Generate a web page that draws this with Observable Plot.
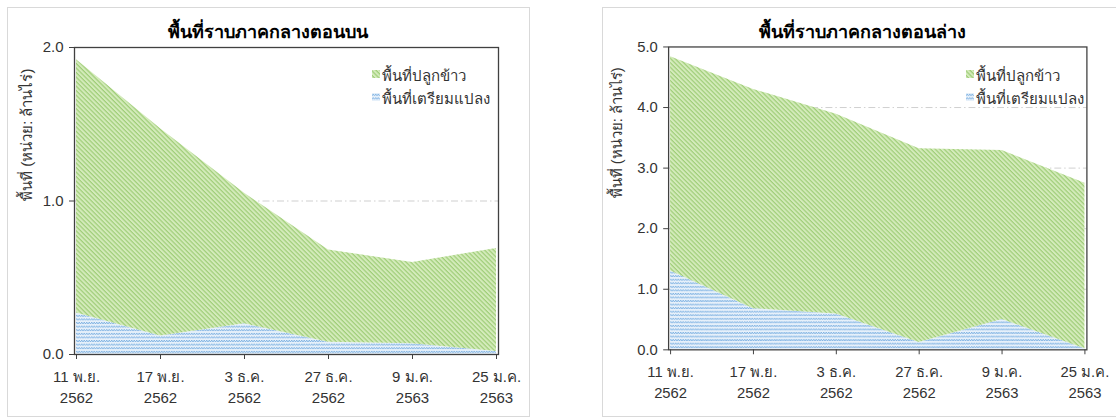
<!DOCTYPE html>
<html><head><meta charset="utf-8">
<script src="https://cdn.jsdelivr.net/npm/d3@7"></script>
<script src="https://cdn.jsdelivr.net/npm/@observablehq/plot@0.6"></script>
<style>
body{margin:0;width:1116px;height:417px;overflow:hidden;background:#fff;font-family:"Liberation Sans",Arial,sans-serif;position:relative}
.panel{position:absolute;top:7px;height:410px;border:1px solid #d9d9d9;box-sizing:border-box}
.chart{position:absolute;top:8px}
.title{position:absolute;top:21px;font-weight:bold;font-size:18px;line-height:22px;color:#000;transform:translateX(-50%);white-space:nowrap}
.legend{position:absolute;font-size:15px;line-height:23px;color:#333;white-space:nowrap}
.legend svg{vertical-align:middle;margin-right:2px;position:relative;top:-3px}
</style>
</head><body>
<svg width="0" height="0" style="position:absolute">
<defs>
<pattern id="pGreen" patternUnits="userSpaceOnUse" width="3.2" height="3.2" patternTransform="rotate(45)">
<rect width="3.2" height="3.2" fill="#d4ebbb"/>
<rect y="0" width="3.2" height="1.2" fill="#9fcd78"/>
</pattern>
<pattern id="pBlue" patternUnits="userSpaceOnUse" width="5" height="3.6">
<rect width="5" height="3.6" fill="#e6f0fa"/>
<path d="M0,2.7 L1.25,1 L2.5,2.7 L3.75,1 L5,2.7" fill="none" stroke="#6aa6dd" stroke-width="0.8"/>
</pattern>
</defs>
</svg>
<div class="panel" style="left:7px;width:523px"></div>
<div class="panel" style="left:602px;width:523px"></div>
<div id="c1" class="chart" style="left:8px"></div>
<div id="c2" class="chart" style="left:603px"></div>
<div id="t1" class="title" style="left:268px"></div>
<div id="t2" class="title" style="left:862px"></div>
<div id="l1" class="legend" style="left:372px;top:64px"></div>
<div id="l2" class="legend" style="left:966px;top:64px"></div>
<script>
// ---- data ----
const dateLabels = ["11 พ.ย.", "17 พ.ย.", "3 ธ.ค.", "27 ธ.ค.", "9 ม.ค.", "25 ม.ค."];
const yearLabels = ["2562", "2562", "2562", "2562", "2563", "2563"];
const seriesNames = ["พื้นที่ปลูกข้าว", "พื้นที่เตรียมแปลง"];
const titles = ["พื้นที่ราบภาคกลางตอนบน", "พื้นที่ราบภาคกลางตอนล่าง"];
const yLabel = "พื้นที่ (หน่วย: ล้านไร่)";
// upper central plain (million rai)
const upperPlanted = [1.65, 1.35, 0.85, 0.60, 0.53, 0.67];
const upperPrep    = [0.27, 0.12, 0.20, 0.08, 0.07, 0.02];
const upperTicks   = [0, 1, 2];
// lower central plain (million rai)
const lowerPlanted = [3.54, 3.62, 3.30, 3.20, 2.79, 2.73];
const lowerPrep    = [1.30, 0.68, 0.59, 0.12, 0.50, 0.02];
const lowerTicks   = [0, 1, 2, 3, 4, 5];

const xs = dateLabels.map((d, i) => d + "\n" + yearLabels[i]);

function tidy(planted, prep) {
  return xs.flatMap((x, i) => [
    {x, series: seriesNames[1], v: prep[i]},
    {x, series: seriesNames[0], v: planted[i]}
  ]);
}

function panel(planted, prep, ticks, ylOffset) {
  const max = ticks[ticks.length - 1];
  return Plot.plot({
    width: 520, height: 407,
    marginLeft: 66, marginRight: 30, marginTop: 39, marginBottom: 61,
    style: {fontFamily: "'Liberation Sans', Arial, sans-serif", fontSize: "15px", color: "#404040", background: "transparent"},
    x: {type: "point", domain: xs, padding: 0},
    y: {domain: [0, max]},
    color: {type: "ordinal", domain: [seriesNames[1], seriesNames[0]], range: ["url(#pBlue)", "url(#pGreen)"]},
    marks: [
      Plot.ruleY(ticks.filter(t => t > 0 && t < max), {stroke: "#cfcfcf", strokeWidth: 1, strokeDasharray: "7,3,1.5,3"}),
      Plot.areaY(tidy(planted, prep), {x: "x", y: "v", z: "series", fill: "series", order: [seriesNames[1], seriesNames[0]]}),
      Plot.axisY({ticks, tickFormat: d3.format(".1f"), tickSize: 5, tickPadding: 6, label: null, stroke: "#404040", fill: "#333", fontSize: 15}),
      Plot.axisX({tickSize: 5, tickPadding: 8, label: null, lineHeight: 1.4, stroke: "#404040", fill: "#333", fontSize: 15}),
      Plot.text([yLabel], {frameAnchor: "left", rotate: -90, dx: -ylOffset, fontSize: 15, fill: "#333"}),
      Plot.frame({stroke: "#404040", strokeWidth: 1.3})
    ]
  });
}

document.getElementById("c1").append(panel(upperPlanted, upperPrep, upperTicks, 47));
document.getElementById("c2").append(panel(lowerPlanted, lowerPrep, lowerTicks, 52));
document.getElementById("t1").textContent = titles[0];
document.getElementById("t2").textContent = titles[1];

function legend(el) {
  const pats = ["pGreen", "pBlue"];
  seriesNames.forEach((name, i) => {
    const row = document.createElement("div");
    row.innerHTML = `<svg width="8" height="8"><rect width="8" height="8" fill="url(#${pats[i]})"/></svg>`;
    row.append(document.createTextNode(name));
    el.append(row);
  });
}
legend(document.getElementById("l1"));
legend(document.getElementById("l2"));
</script>
</body></html>
